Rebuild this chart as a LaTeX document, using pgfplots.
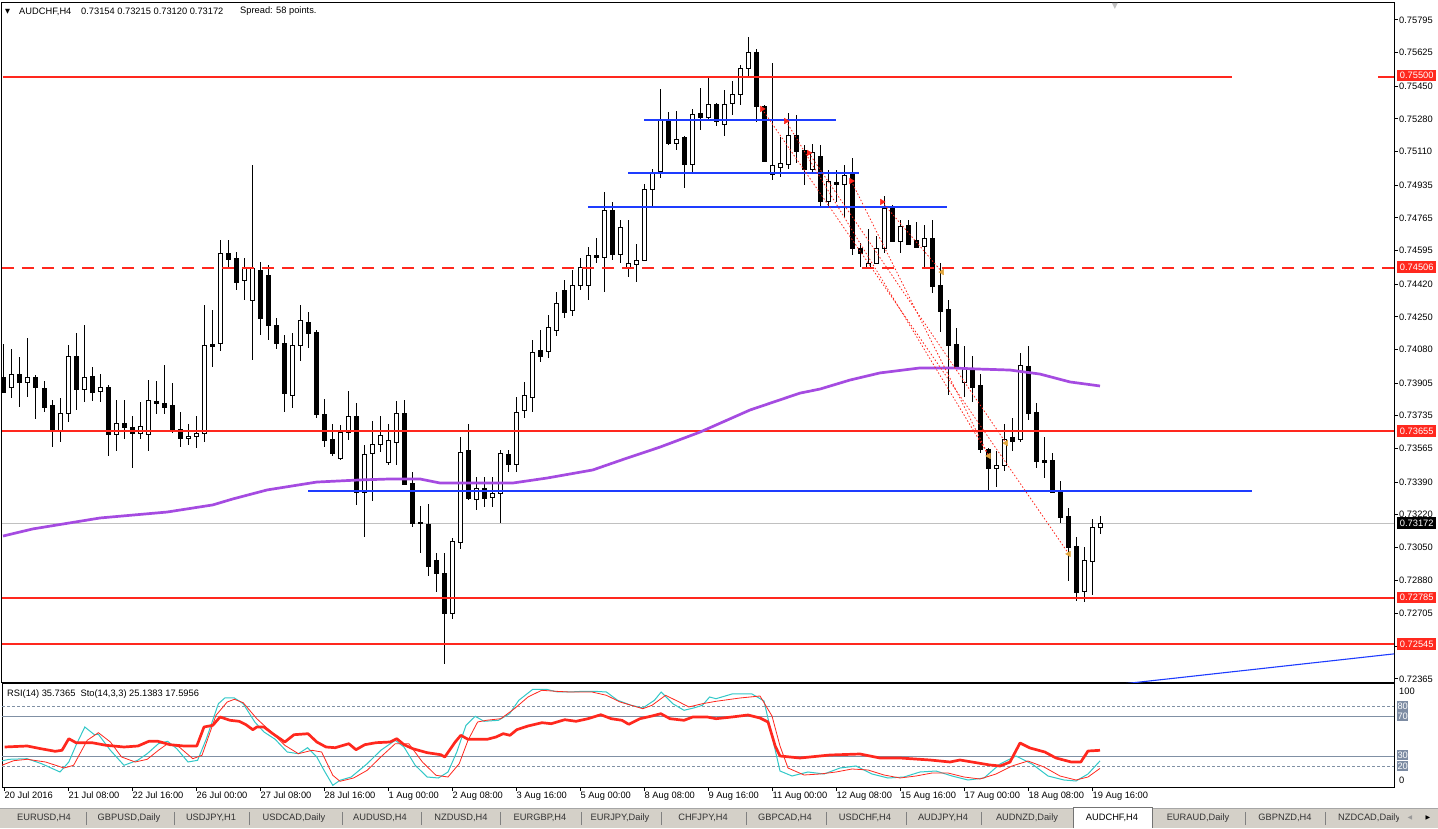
\documentclass[border=0pt]{standalone}
\usepackage{pgfplots}
\pgfplotsset{compat=1.18}
\usepackage{pgfplotstable}
\usepackage{fontspec}
\setmainfont{Liberation Sans}
\newfontfamily\dejavu{DejaVu Sans}
\definecolor{mtred}{RGB}{255,40,30}
\definecolor{mtblue}{RGB}{30,60,255}
\definecolor{mapurple}{RGB}{165,75,225}
\definecolor{stocyan}{RGB}{50,200,200}
\definecolor{lvl}{RGB}{128,144,164}
\definecolor{lvlbox}{RGB}{125,140,163}
\definecolor{tabgray}{RGB}{212,208,200}
\definecolor{orangetri}{RGB}{225,165,60}
\definecolor{pricegray}{RGB}{192,192,192}
\newcommand{\mtfont}{\fontsize{9.3}{11}\selectfont}

\pgfplotstableread{
i o h l c
0 0.73937 0.74109 0.73853 0.73859
1 0.73885 0.74082 0.73827 0.73952
2 0.73952 0.74041 0.73781 0.73911
3 0.73911 0.74140 0.73833 0.73937
4 0.73932 0.73947 0.73718 0.73880
5 0.73880 0.73916 0.73755 0.73781
6 0.73791 0.73817 0.73572 0.73666
7 0.73656 0.73827 0.73598 0.73749
8 0.73749 0.74103 0.73703 0.74046
9 0.74046 0.74166 0.73765 0.73874
10 0.73874 0.74207 0.73807 0.73937
11 0.73942 0.73989 0.73812 0.73859
12 0.73859 0.73952 0.73807 0.73880
13 0.73880 0.73895 0.73526 0.73640
14 0.73640 0.73817 0.73552 0.73697
15 0.73697 0.73817 0.73614 0.73677
16 0.73677 0.73734 0.73463 0.73645
17 0.73645 0.73807 0.73614 0.73682
18 0.73640 0.73921 0.73552 0.73812
19 0.73812 0.73916 0.73744 0.73801
20 0.73801 0.73999 0.73744 0.73781
21 0.73786 0.73906 0.73645 0.73666
22 0.73666 0.73755 0.73572 0.73619
23 0.73619 0.73692 0.73583 0.73630
24 0.73630 0.73734 0.73567 0.73645
25 0.73645 0.74312 0.73598 0.74103
26 0.74109 0.74285 0.73989 0.74098
27 0.74114 0.74650 0.74072 0.74582
28 0.74582 0.74650 0.74504 0.74546
29 0.74556 0.74587 0.74390 0.74431
30 0.74442 0.74556 0.74338 0.74504
31 0.74338 0.75040 0.74025 0.74504
32 0.74494 0.74535 0.74155 0.74244
33 0.74468 0.74520 0.74129 0.74207
34 0.74207 0.74244 0.74082 0.74114
35 0.74114 0.74155 0.73755 0.73853
36 0.73843 0.74166 0.73775 0.74103
37 0.74103 0.74312 0.74020 0.74233
38 0.74223 0.74275 0.74088 0.74166
39 0.74166 0.74181 0.73723 0.73744
40 0.73744 0.73822 0.73572 0.73604
41 0.73609 0.73692 0.73526 0.73541
42 0.73515 0.73687 0.73505 0.73650
43 0.73650 0.73864 0.73609 0.73734
44 0.73734 0.73801 0.73271 0.73338
45 0.73338 0.73583 0.73104 0.73536
46 0.73541 0.73708 0.73291 0.73588
47 0.73588 0.73734 0.73546 0.73635
48 0.73494 0.73692 0.73479 0.73604
49 0.73598 0.73812 0.73479 0.73749
50 0.73749 0.73817 0.73375 0.73380
51 0.73385 0.73442 0.73156 0.73177
52 0.73182 0.73265 0.73021 0.73177
53 0.73172 0.73276 0.72901 0.72953
54 0.72984 0.73021 0.72818 0.72917
55 0.72917 0.73021 0.72443 0.72708
56 0.72708 0.73099 0.72677 0.73083
57 0.73078 0.73624 0.73042 0.73546
58 0.73552 0.73692 0.73297 0.73302
59 0.73302 0.73416 0.73245 0.73359
60 0.73359 0.73416 0.73260 0.73307
61 0.73312 0.73416 0.73260 0.73333
62 0.73333 0.73557 0.73177 0.73541
63 0.73536 0.73557 0.73442 0.73484
64 0.73484 0.73833 0.73442 0.73755
65 0.73765 0.73911 0.73723 0.73843
66 0.73833 0.74129 0.73755 0.74067
67 0.74077 0.74181 0.74015 0.74046
68 0.74067 0.74259 0.74036 0.74197
69 0.74181 0.74379 0.74150 0.74322
70 0.74390 0.74442 0.74244 0.74275
71 0.74285 0.74494 0.74254 0.74416
72 0.74416 0.74556 0.74390 0.74509
73 0.74416 0.74613 0.74338 0.74572
74 0.74572 0.74660 0.74530 0.74561
75 0.74561 0.74900 0.74379 0.74806
76 0.74806 0.74848 0.74546 0.74577
77 0.74577 0.74754 0.74530 0.74717
78 0.74504 0.74754 0.74457 0.74530
79 0.74525 0.74629 0.74431 0.74546
80 0.74546 0.74941 0.74541 0.74915
81 0.74915 0.75019 0.74822 0.75004
82 0.75004 0.75436 0.74973 0.75274
83 0.75280 0.75316 0.75144 0.75155
84 0.75155 0.75321 0.75118 0.75176
85 0.75181 0.75191 0.74920 0.75045
86 0.75045 0.75332 0.74999 0.75306
87 0.75306 0.75441 0.75222 0.75290
88 0.75290 0.75498 0.75274 0.75358
89 0.75358 0.75363 0.75243 0.75269
90 0.75254 0.75431 0.75191 0.75358
91 0.75363 0.75477 0.75300 0.75410
92 0.75410 0.75561 0.75352 0.75545
93 0.75545 0.75706 0.75498 0.75628
94 0.75628 0.75644 0.75264 0.75347
95 0.75347 0.75352 0.75056 0.75061
96 0.74993 0.75571 0.74962 0.75035
97 0.75030 0.75186 0.74978 0.75051
98 0.75045 0.75311 0.75019 0.75196
99 0.75196 0.75300 0.75051 0.75113
100 0.75118 0.75144 0.74936 0.75019
101 0.75019 0.75149 0.75004 0.75103
102 0.75082 0.75144 0.74822 0.74848
103 0.74848 0.75014 0.74827 0.74952
104 0.74952 0.75014 0.74848 0.74941
105 0.74941 0.75040 0.74770 0.74988
106 0.74988 0.75077 0.74572 0.74603
107 0.74603 0.74634 0.74509 0.74577
108 0.74504 0.74707 0.74499 0.74530
109 0.74530 0.74671 0.74525 0.74608
110 0.74608 0.74879 0.74582 0.74816
111 0.74816 0.74832 0.74639 0.74645
112 0.74645 0.74754 0.74582 0.74723
113 0.74728 0.74754 0.74624 0.74629
114 0.74650 0.74744 0.74608 0.74613
115 0.74619 0.74728 0.74504 0.74660
116 0.74660 0.74754 0.74374 0.74410
117 0.74416 0.74530 0.74171 0.74280
118 0.74291 0.74338 0.73843 0.74103
119 0.74109 0.74192 0.73984 0.73989
120 0.73911 0.74098 0.73833 0.73978
121 0.73978 0.74046 0.73807 0.73885
122 0.73890 0.73952 0.73541 0.73562
123 0.73562 0.73567 0.73343 0.73463
124 0.73463 0.73552 0.73364 0.73479
125 0.73479 0.73692 0.73448 0.73614
126 0.73624 0.73723 0.73552 0.73604
127 0.73609 0.74062 0.73598 0.73999
128 0.73994 0.74098 0.73713 0.73749
129 0.73755 0.73801 0.73463 0.73500
130 0.73505 0.73624 0.73411 0.73494
131 0.73505 0.73541 0.73333 0.73338
132 0.73338 0.73395 0.73177 0.73208
133 0.73213 0.73255 0.72875 0.73052
134 0.73057 0.73104 0.72771 0.72818
135 0.72823 0.73052 0.72766 0.72984
136 0.72979 0.73198 0.72802 0.73156
137 0.73154 0.73215 0.73120 0.73172
}\candles

\pgfplotstableread{
x p
-0.125 0.73109
3.6 0.73146
12 0.73203
20.4 0.73234
26.1 0.73271
28.6 0.73302
32.9 0.73349
39.1 0.73390
44.5 0.73401
48.25 0.73406
52 0.73406
54.5 0.73385
63.6 0.73385
67.9 0.73411
73.6 0.73453
77.9 0.73515
82 0.73572
87 0.73650
93.25 0.73765
99.5 0.73853
102 0.73874
105.75 0.73921
109.5 0.73958
114.5 0.73984
118.25 0.73984
122 0.73978
125.75 0.73973
129.5 0.73952
133.25 0.73911
137 0.73890
}\ma

\pgfplotstableread{
x v
0.07 39
2.9 40
4.6 37.3
6.4 34.7
7.25 35.7
8.1 47.3
9 43.3
11 43.3
12.75 40.7
15 39
16.75 40
18.1 44.7
19.25 44.7
20.75 41.3
22.5 40
24.1 40
25 59
26.1 60.7
27 69
28.25 65.7
29.4 64.7
30.25 61.3
31.1 56.3
31.6 59
32.5 59
33.6 52.3
35.1 44
36.25 51.3
38 52.3
39.1 44
40.25 39
41.4 38.3
43.1 42.3
44 36.3
45.1 41.3
46.5 43.3
48.25 44
49.1 47.3
50 41.3
51.1 37.3
52.9 33.3
54.6 31.3
55.1 29
56.4 44
57.1 50.7
58 46.7
60.4 46.7
61.5 49
62.4 52.3
63.25 50.7
64.1 56.3
65.5 60
67.25 63.3
68.4 62.3
70.1 66.3
71.5 64.7
73 67.3
74.6 71.3
75.9 67.3
77.25 65.7
78.1 61.7
79.5 67.3
81 70
82.1 72.3
83.25 67.3
85 65.7
86.1 69
87.9 69
89 67.3
91 69
93 71
94.5 68
95.5 64
96.4 40
97 30
99.5 28
103.25 31
107 32
109.5 28
112 28
115.75 26
118.25 24
119.5 26
123.25 21
124.5 20
125.75 24
127 43
128.25 38
130.1 34
131.5 28
133.4 24
134.6 24
135.5 35
137 35.7
}\rsi

\pgfplotstableread{
x v
-0.5 24.7
0.65 26.7
2.9 27.3
4.7 22.3
7 14
8.1 24
9 40.7
10.1 59
11.3 51.3
11.8 51.7
13.3 35.7
15 20.7
16.7 25.7
17.9 32.3
19.3 42.3
20.45 44.7
21.6 37.3
23 24
24.2 25.7
25.3 47.3
26.8 82.3
27.6 88
28.8 88
29.9 82.3
31.35 64
32.5 54
33.9 46.7
35.4 34
36.8 32.3
37.95 38.3
39.1 29
40 15.7
41.1 0.7
42 5.7
43.4 9
45.4 22.3
47.1 35.7
48.9 45.7
50 39
51.4 20.7
52.9 9
54.3 8
55.5 14
56.6 34
57.75 60.7
58.9 69.7
60 64.7
61.8 65.7
63.2 72.3
64.35 85.7
66.1 96.7
67.8 96.7
69.2 94
70.7 94
72.4 94.7
73.8 94.7
75.3 94
76.7 85.7
78.4 80.7
79.85 78
81.3 85.7
82.15 94
83.6 82.3
85 75.7
86.2 78
87.3 80.7
88.2 89
89 87.3
91 92
93.5 92
95 85
96 50
97 15
98.5 10
100.5 14
102.5 12
104.5 18
106.5 20
108.5 12
110.5 8
112.5 9
114.5 14
116.5 15
118.5 10
120.5 6
122.5 8
124.5 22
126.5 30
128.5 22
130.5 10
132.5 6
134 5
135.5 12
137 25.1
}\stomain

\pgfplotstableread{
x v
-0.5 20
1.2 25.3
2.9 26.7
5.2 24
7.5 18
8.7 20.7
10.4 45.7
11.8 53.3
13.3 44
14.7 29
16.4 24
17.9 26.7
19.3 35.7
20.45 42.3
21.9 39
23.6 27.3
24.75 30.7
26.5 70.7
27.9 84
28.8 86.7
29.9 83.3
31.6 67.3
33.4 54
35.1 40.7
36.8 32.3
38.5 35.7
39.7 34
41.1 10.7
42 4.7
43.7 8
45.4 15.7
47.1 29
48.9 42.3
50.6 42.3
52.3 24
54 10.7
55.5 9
56.9 22.3
58 45.7
59.2 64
60.3 65.7
62.1 67.3
63.8 77.3
65.5 89
67.2 95.7
69 94.7
70.7 94
73.5 94
75.3 90.7
77 84
79.85 77.3
81 80.7
82.7 90.7
84.4 84
85.6 79
87.3 82.3
89 84.7
92 88
94.5 90
96 70
97 40
98 18
100 11
102 12
104 14
106 17
108 16
110 11
112 8
114 10
116 13
118 13
120 9
122 7
124 12
126 20
128 25
130 19
132 10
134 6
135.5 9
137 17.6
}\stosig

\begin{document}
\begin{tikzpicture}
\useasboundingbox (0,0) rectangle (1438pt,828pt);
\fill[white] (0,0) rectangle (1438pt,828pt);

% ---------------- main price panel ----------------
\begin{axis}[
  at={(2pt,146pt)}, anchor=south west, scale only axis,
  width=1392pt, height=679pt,
  xmin=-0.25, xmax=173.75, ymin=0.723493, ymax=0.758834,
  xtick=\empty,
  ytick={0.75795,0.75625,0.75450,0.75280,0.75110,0.74935,0.74765,0.74595,0.74420,0.74250,0.74080,0.73905,0.73735,0.73565,0.73390,0.73220,0.73050,0.72880,0.72705,0.72535,0.72365},
  yticklabels={0.75795,0.75625,0.75450,0.75280,0.75110,0.74935,0.74765,0.74595,0.74420,0.74250,0.74080,0.73905,0.73735,0.73565,0.73390,0.73220,0.73050,0.72880,0.72705,0.72535,0.72365},
  ytick pos=right, yticklabel pos=right,
  tick align=outside, major tick length=4pt,
  tick style={black, line width=1pt},
  axis line style={black, line width=1pt},
  yticklabel style={font=\mtfont, anchor=west, inner sep=1pt},
]
% current price line
\addplot[pricegray, line width=1pt] coordinates {(-0.25,0.73172) (173.75,0.73172)};
% wicks
\addplot[draw=none, mark=none, forget plot,
  error bars/.cd, y dir=both, y explicit, error mark=none,
  error bar style={draw=black, solid, line width=1pt}]
  table[x=i, y expr={(\thisrow{h}+\thisrow{l})/2}, y error expr={(\thisrow{h}-\thisrow{l})/2}]{\candles};
% bodies (outline / filled)
\addplot[draw=none, mark=none, forget plot,
  error bars/.cd, y dir=both, y explicit, error mark=none,
  error bar style={draw=black, solid, line width=5pt}]
  table[x=i, y expr={(\thisrow{o}+\thisrow{c})/2}, y error expr={abs(\thisrow{c}-\thisrow{o})/2+0.000026}]{\candles};
% hollow interior of bullish bodies
\addplot[draw=none, mark=none, forget plot,
  error bars/.cd, y dir=both, y explicit, error mark=none,
  error bar style={draw=white, solid, line width=3pt}]
  table[x=i, y expr={(\thisrow{o}+\thisrow{c})/2}, y error expr={(\thisrow{c}>\thisrow{o})*max(abs(\thisrow{c}-\thisrow{o})/2-0.000026,0)}]{\candles};

% horizontal levels
\addplot[color=mtred, line width=2pt] coordinates {(-0.125,0.75500) (153.5,0.75500)};
\addplot[color=mtred, line width=2pt] coordinates {(171.75,0.75500) (173.75,0.75500)};
\addplot[color=mtred, line width=1.8pt, dash pattern=on 12pt off 8pt] coordinates {(-0.25,0.74506) (173.75,0.74506)};
\addplot[color=mtred, line width=1.3pt] coordinates {(-0.25,0.73655) (173.75,0.73655)};
\addplot[color=mtred, line width=2pt] coordinates {(-0.25,0.72785) (173.75,0.72785)};
\addplot[color=mtred, line width=2pt] coordinates {(-0.25,0.72545) (173.75,0.72545)};
\addplot[color=mtblue, line width=1.2pt] coordinates {(80,0.75274) (104,0.75274)};
\addplot[color=mtblue, line width=1.2pt] coordinates {(78,0.74999) (106.9,0.74999)};
\addplot[color=mtblue, line width=1.2pt] coordinates {(73,0.74822) (117.9,0.74822)};
\addplot[color=mtblue, line width=1.3pt] coordinates {(38,0.73343) (156,0.73343)};
\addplot[color=mtblue, line width=1.1pt] coordinates {(140,0.72340) (176,0.72506)};

% moving average
\addplot[color=mapurple, line width=2.7pt] table[x=x, y=p]{\ma};

% trade lines
\addplot[color=mtred, line width=0.8pt, dash pattern=on 1.5pt off 2pt] coordinates {(94.75,0.75332) (133.1,0.73016)};
\addplot[color=mtred, line width=0.8pt, dash pattern=on 1.5pt off 2pt] coordinates {(97.75,0.75269) (123.1,0.73526)};
\addplot[color=mtred, line width=0.8pt, dash pattern=on 1.5pt off 2pt] coordinates {(100.6,0.75103) (125.25,0.73593)};
\addplot[color=mtred, line width=0.8pt, dash pattern=on 1.5pt off 2pt] coordinates {(105.9,0.74957) (123.1,0.73526)};
\addplot[color=mtred, line width=0.8pt, dash pattern=on 1.5pt off 2pt] coordinates {(109.75,0.74848) (117.25,0.74483)};
\addplot[only marks, mark=triangle*, mark size=3.2pt, mark options={rotate=-90, fill=mtred, draw=mtred}]
  coordinates {(94.75,0.75332) (97.75,0.75269) (100.6,0.75103) (105.9,0.74957) (109.75,0.74848)};
\addplot[only marks, mark=triangle*, mark size=3.2pt, mark options={rotate=90, fill=orangetri, draw=orangetri}]
  coordinates {(117.25,0.74483) (123.1,0.73526) (125.25,0.73593) (133.1,0.73016)};
\end{axis}

% ---------------- indicator panel ----------------
\begin{axis}[
  at={(2pt,41pt)}, anchor=south west, scale only axis,
  width=1392pt, height=103pt,
  xmin=-0.25, xmax=173.75, ymin=-1, ymax=102,
  ytick=\empty,
  xtick={0,8,...,136},
  xticklabels={20 Jul 2016,21 Jul 08:00,22 Jul 16:00,26 Jul 00:00,27 Jul 08:00,28 Jul 16:00,1 Aug 00:00,2 Aug 08:00,3 Aug 16:00,5 Aug 00:00,8 Aug 08:00,9 Aug 16:00,11 Aug 00:00,12 Aug 08:00,15 Aug 16:00,17 Aug 00:00,18 Aug 08:00,19 Aug 16:00},
  xtick pos=left, tick align=outside, major tick length=4pt,
  tick style={black, line width=1pt},
  axis line style={black, line width=1pt},
  xticklabel style={font=\mtfont, anchor=north west, inner sep=0.5pt},
]
\addplot[color=lvl, line width=0.8pt, dash pattern=on 3pt off 2pt] coordinates {(-0.25,80) (173.75,80)};
\addplot[color=lvl, line width=0.8pt] coordinates {(-0.25,70) (173.75,70)};
\addplot[color=lvl, line width=0.8pt] coordinates {(-0.25,30) (173.75,30)};
\addplot[color=lvl, line width=0.8pt, dash pattern=on 3pt off 2pt] coordinates {(-0.25,20) (173.75,20)};
\addplot[color=stocyan, line width=1pt] table[x=x, y=v]{\stomain};
\addplot[color=mtred, line width=0.8pt] table[x=x, y=v]{\stosig};
\addplot[color=mtred, line width=2.7pt, line join=round] table[x=x, y=v]{\rsi};
\end{axis}

% ---------------- labels and decorations ----------------
\node[anchor=west, inner sep=0pt] at (5pt,816.5pt) {\dejavu\fontsize{6.5}{7}\selectfont ▼};
\node[anchor=west, inner sep=0pt, font=\mtfont] at (19pt,816.5pt) {AUDCHF,H4};
\node[anchor=west, inner sep=0pt, font=\mtfont] at (81pt,816.5pt) {0.73154 0.73215 0.73120 0.73172};
\node[anchor=west, inner sep=0pt, font=\mtfont] at (240pt,816.5pt) {Spread: 58 points.};
\node[inner sep=0pt, text=pricegray] at (1115pt,822pt) {\dejavu\fontsize{8}{9}\selectfont ▼};
\node[anchor=west, inner sep=0pt, font=\mtfont] at (7pt,134pt) {RSI(14) 35.7365\ \ Sto(14,3,3) 25.1383 17.5956};

\foreach \yy/\lab in {752.5/0.75500, 561/0.74506, 397/0.73655, 230.5/0.72785, 184/0.72545}{
  \node[fill=mtred, text=white, font=\mtfont, inner sep=0pt, minimum width=39pt, minimum height=11.5pt, anchor=west] at (1397pt,\yy pt) {\lab};
}
\node[fill=black, text=white, font=\mtfont, inner sep=0pt, minimum width=39pt, minimum height=11.5pt, anchor=west] at (1397pt,305pt) {0.73172};

\node[anchor=west, inner sep=0pt, font=\mtfont] at (1399pt,137pt) {100};
\node[anchor=west, inner sep=0pt, font=\mtfont] at (1399pt,48pt) {0};
\foreach \yy/\lab in {122/80, 112/70, 73/30, 62/20}{
  \node[fill=lvlbox, text=white, font=\mtfont, inner sep=0pt, minimum width=11pt, minimum height=10.5pt, anchor=west] at (1397pt,\yy pt) {\lab};
}

% tab bar
\fill[tabgray] (0,0) rectangle (1438pt,20pt);
\draw[black!35, line width=1pt] (0,20pt) -- (1438pt,20pt);
\fill[white] (1073pt,0) rectangle (1152pt,21pt);
\draw[black!55, line width=1pt] (1073pt,0) -- (1073pt,21pt) -- (1152pt,21pt) -- (1152pt,0);
\foreach \xx in {86,174,249,342,421,500,581,661,746,826,906,981,1245,1325}{
  \draw[black!50, line width=0.8pt] (\xx pt,3pt) -- (\xx pt,16pt);
}
\foreach \xx/\lab in {44/{EURUSD,H4}, 129/{GBPUSD,Daily}, 211/{USDJPY,H1}, 294/{USDCAD,Daily}, 380/{AUDUSD,H4}, 461/{NZDUSD,H4}, 540/{EURGBP,H4}, 620/{EURJPY,Daily}, 703/{CHFJPY,H4}, 785/{GBPCAD,H4}, 865/{USDCHF,H4}, 943/{AUDJPY,H4}, 1027/{AUDNZD,Daily}, 1198/{EURAUD,Daily}, 1285/{GBPNZD,H4}}{
  \node[font=\mtfont, text=black!80, inner sep=0pt] at (\xx pt,10pt) {\lab};
}
\node[font=\mtfont, text=black, inner sep=0pt] at (1112pt,10pt) {AUDCHF,H4};
\begin{scope}
\clip (1326pt,0) rectangle (1398pt,20pt);
\node[font=\mtfont, text=black!80, inner sep=0pt, anchor=west] at (1338pt,10pt) {NZDCAD,Daily};
\end{scope}
\node[inner sep=0pt, text=black!40] at (1410pt,10pt) {\dejavu\fontsize{6}{7}\selectfont ◀};
\node[inner sep=0pt, text=black] at (1428pt,10pt) {\dejavu\fontsize{6}{7}\selectfont ▶};
\end{tikzpicture}
\end{document}
